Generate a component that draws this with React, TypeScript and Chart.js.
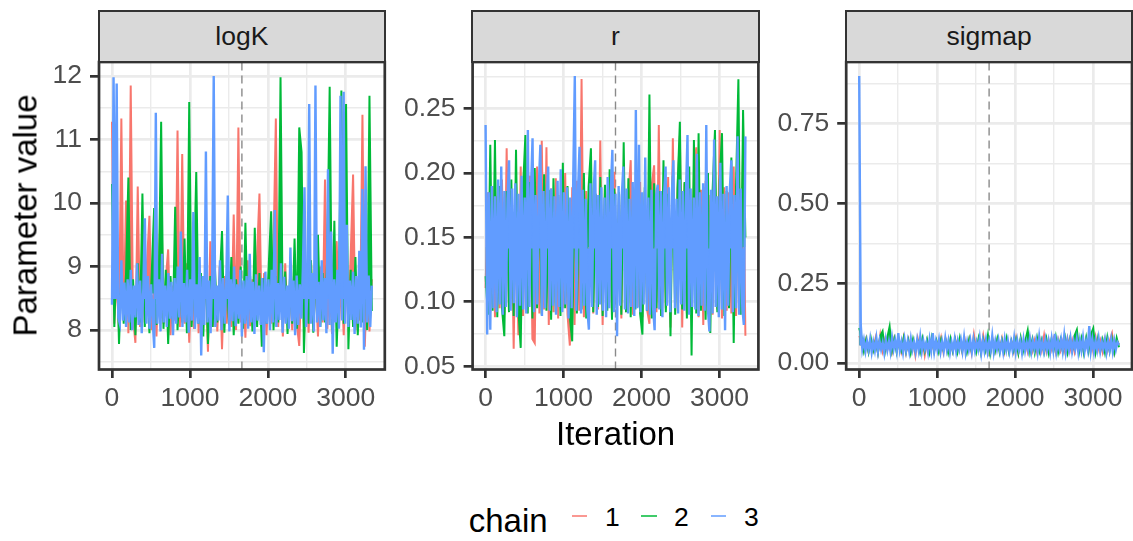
import React, { useEffect, useRef } from 'react';
import { Chart, registerables } from 'chart.js';

Chart.register(...registerables);

const FONT = "'Liberation Sans', Arial, Helvetica, sans-serif";

const CHAINS = ['1', '2', '3'];
const CHAIN_COLORS = ['#F8766D', '#00BA38', '#619CFF'];
const N_ITER = 3333;
const WARMUP_LINE = 1667;

const X_MAJOR = [0, 1000, 2000, 3000];
const X_MINOR = [500, 1500, 2500];
const LOGK_MAJOR = [8, 9, 10, 11, 12];
const LOGK_MINOR = [7.5, 8.5, 9.5, 10.5, 11.5];
const R_MAJOR = [0.05, 0.1, 0.15, 0.2, 0.25];
const R_MINOR = [0.075, 0.125, 0.175, 0.225, 0.275];
const SIG_MAJOR = [0, 0.25, 0.5, 0.75];
const SIG_MINOR = [0.125, 0.375, 0.625, 0.875];

// ---- logK traces (thinned draws) ----
const LOGK_1 = [
  11.28, 8.10, 8.85, 8.00, 11.33, 8.15, 10.04, 7.95, 11.85, 8.20,
  7.80, 10.26, 8.05, 8.90, 8.12, 9.10, 9.80, 8.00, 8.75, 7.90,
  8.95, 10.23, 8.10, 8.80, 9.27, 7.92, 8.70, 8.15, 11.14, 8.05,
  10.77, 8.10, 9.05, 7.80, 8.85, 8.02, 9.15, 7.95, 8.78, 8.12,
  8.90, 7.66, 9.40, 8.05, 8.80, 7.98, 9.00, 7.70, 8.85, 8.10,
  8.92, 8.05, 9.82, 8.00, 11.19, 8.12, 8.75, 7.88, 9.10, 8.06,
  8.80, 8.15, 9.20, 10.15, 8.02, 8.90, 7.92, 8.78, 8.10, 9.30,
  11.33, 8.05, 8.85, 7.90, 9.05, 8.12, 8.70, 8.00, 9.15, 8.08,
  7.75, 8.95, 8.10, 8.82, 7.96, 9.10, 8.05, 8.76, 7.90, 9.00,
  8.12, 10.37, 8.02, 8.80, 7.94, 9.08, 9.40, 8.05, 8.85, 7.92,
  8.90, 8.10, 9.20, 10.45, 8.00, 8.78, 8.15, 11.39, 7.74, 8.85,
  7.98, 8.80,
];
const LOGK_2 = [
  10.30, 8.05, 9.26, 7.78, 8.85, 8.10, 8.90, 10.40, 8.00, 8.80,
  7.92, 9.05, 8.12, 10.15, 8.05, 8.75, 7.95, 8.92, 9.92, 8.08,
  8.80, 11.28, 8.02, 8.95, 7.78, 8.85, 8.10, 9.94, 8.00, 8.78,
  8.12, 9.44, 7.95, 11.59, 8.05, 8.82, 10.49, 8.10, 8.90, 7.90,
  9.10, 7.78, 8.85, 8.05, 8.95, 8.12, 8.76, 9.56, 7.96, 8.88,
  8.08, 9.15, 7.92, 8.80, 8.10, 9.00, 8.02, 9.69, 8.15, 8.85,
  7.98, 9.61, 8.05, 8.90, 7.74, 8.82, 8.10, 9.05, 9.87, 8.00,
  8.85, 8.12, 11.98, 8.05, 8.92, 7.94, 8.80, 8.10, 9.44, 8.02,
  11.19, 10.80, 7.64, 8.88, 8.10, 9.10, 7.96, 8.82, 9.50, 8.05,
  8.90, 8.12, 9.20, 11.83, 8.00, 9.72, 7.74, 8.85, 11.77, 8.10,
  11.56, 7.70, 8.95, 8.05, 9.15, 7.92, 8.86, 8.12, 9.30, 8.00,
  11.69, 8.30,
];
const LOGK_3 = [
  8.40, 11.98, 8.90, 11.88, 8.20, 8.10, 9.10, 8.15, 8.75, 8.05,
  8.80, 8.12, 8.95, 8.00, 8.70, 8.20, 9.05, 8.08, 8.78, 7.95,
  8.65, 9.76, 8.10, 8.85, 8.02, 8.72, 8.15, 7.72, 11.42, 8.10,
  8.80, 7.98, 9.20, 8.12, 8.70, 8.05, 8.90, 8.18, 8.76, 7.92,
  8.82, 8.10, 9.00, 8.20, 9.55, 8.05, 8.74, 8.12, 8.95, 7.96,
  8.80, 8.15, 9.86, 8.02, 8.72, 8.10, 9.15, 7.60, 8.85, 8.08,
  10.81, 8.12, 8.78, 7.95, 8.90, 12.00, 8.05, 8.70, 8.15, 9.10,
  8.00, 8.82, 8.10, 8.75, 10.12, 7.98, 8.80, 8.14, 9.00, 8.06,
  8.72, 8.18, 8.95, 7.90, 8.78, 8.10, 8.85, 8.02, 9.20, 8.12,
  8.76, 7.94, 8.88, 8.15, 8.70, 8.08, 8.82, 7.65, 8.92, 8.10,
  8.80, 8.00, 8.95, 8.12, 9.89, 8.05, 8.74, 8.16, 9.05, 7.96,
  8.84, 8.10, 8.70, 8.02, 9.30, 8.14, 8.78, 7.92, 8.86, 8.08,
  8.72, 8.18, 9.00, 10.25, 8.05, 8.80, 11.56, 8.10, 8.90, 7.98,
  11.85, 8.12, 8.76, 8.05, 9.10, 8.15, 8.82, 7.95, 10.53, 8.08,
  9.55, 7.63, 8.80, 8.12, 8.95, 8.02, 11.69, 8.15, 11.75, 8.10,
  9.66, 8.05, 8.78, 8.16, 8.92, 7.94, 8.85, 8.10, 9.25, 8.04,
  10.22, 7.69, 10.58, 8.12, 8.86, 8.05, 8.70,
];

// ---- r traces ----
const R_1 = [
  0.1108, 0.185, 0.092, 0.190, 0.088, 0.182, 0.095, 0.195, 0.090, 0.2193,
  0.093, 0.186, 0.0635, 0.192, 0.074, 0.205, 0.089, 0.184, 0.096, 0.198,
  0.0712, 0.068, 0.205, 0.091, 0.225, 0.094, 0.220, 0.082, 0.188, 0.092,
  0.196, 0.087, 0.183, 0.095, 0.200, 0.090, 0.066, 0.189, 0.082, 0.194,
  0.093, 0.273, 0.088, 0.186, 0.096, 0.198, 0.091, 0.184, 0.094, 0.2252,
  0.082, 0.190, 0.095, 0.187, 0.089, 0.201, 0.093, 0.185, 0.087, 0.195,
  0.092, 0.182, 0.210, 0.090, 0.188, 0.096, 0.193, 0.088, 0.186, 0.094,
  0.083, 0.191, 0.206, 0.092, 0.2374, 0.089, 0.185, 0.095, 0.197, 0.080,
  0.227, 0.093, 0.188, 0.229, 0.080, 0.192, 0.091, 0.184, 0.096, 0.199,
  0.220, 0.088, 0.187, 0.082, 0.194, 0.092, 0.183, 0.090, 0.196, 0.094,
  0.2335, 0.087, 0.189, 0.093, 0.185, 0.091, 0.205, 0.089, 0.192, 0.095,
  0.219, 0.0737,
];
const R_2 = [
  0.120, 0.090, 0.222, 0.093, 0.2256, 0.088, 0.190, 0.095, 0.0733, 0.186,
  0.092, 0.195, 0.089, 0.218, 0.094, 0.0642, 0.188, 0.2296, 0.091, 0.193,
  0.087, 0.204, 0.095, 0.185, 0.090, 0.199, 0.093, 0.187, 0.086, 0.196,
  0.092, 0.183, 0.089, 0.208, 0.095, 0.190, 0.088, 0.0693, 0.194, 0.091,
  0.186, 0.094, 0.200, 0.087, 0.189, 0.2193, 0.092, 0.184, 0.096, 0.197,
  0.089, 0.191, 0.093, 0.203, 0.086, 0.188, 0.095, 0.185, 0.090, 0.224,
  0.092, 0.196, 0.088, 0.187, 0.094, 0.202, 0.091, 0.0746, 0.189, 0.093,
  0.2611, 0.087, 0.192, 0.095, 0.186, 0.089, 0.210, 0.092, 0.184, 0.0733,
  0.198, 0.090, 0.188, 0.2399, 0.094, 0.193, 0.087, 0.205, 0.0583, 0.2256,
  0.091, 0.231, 0.093, 0.189, 0.086, 0.200, 0.0758, 0.187, 0.2335, 0.092,
  0.194, 0.231, 0.089, 0.186, 0.095, 0.212, 0.068, 0.191, 0.2728, 0.090,
  0.249, 0.150,
];
const R_3 = [
  0.2374, 0.0746, 0.185, 0.0784, 0.190, 0.095, 0.182, 0.092, 0.195, 0.098,
  0.205, 0.090, 0.186, 0.096, 0.180, 0.210, 0.093, 0.188, 0.099, 0.192,
  0.088, 0.184, 0.097, 0.198, 0.094, 0.181, 0.091, 0.2335, 0.096, 0.187,
  0.227, 0.092, 0.183, 0.098, 0.190, 0.222, 0.089, 0.186, 0.095, 0.180,
  0.205, 0.093, 0.188, 0.097, 0.182, 0.090, 0.194, 0.096, 0.203, 0.092,
  0.185, 0.098, 0.189, 0.087, 0.181, 0.095, 0.196, 0.2754, 0.093, 0.184,
  0.2205, 0.091, 0.187, 0.097, 0.180, 0.094, 0.0784, 0.192, 0.096, 0.185,
  0.210, 0.090, 0.183, 0.098, 0.189, 0.093, 0.181, 0.088, 0.197, 0.095,
  0.186, 0.218, 0.092, 0.184, 0.0733, 0.190, 0.097, 0.182, 0.205, 0.094,
  0.188, 0.091, 0.180, 0.096, 0.193, 0.089, 0.249, 0.095, 0.222, 0.092,
  0.185, 0.098, 0.212, 0.093, 0.181, 0.090, 0.187, 0.096, 0.078, 0.183,
  0.191, 0.094, 0.186, 0.088, 0.182, 0.205, 0.097, 0.189, 0.092, 0.184,
  0.210, 0.095, 0.180, 0.091, 0.195, 0.098, 0.186, 0.093, 0.183, 0.2296,
  0.090, 0.188, 0.096, 0.181, 0.094, 0.215, 0.089, 0.185, 0.097, 0.192,
  0.093, 0.2374, 0.095, 0.077, 0.187, 0.091, 0.226, 0.096, 0.182, 0.088,
  0.208, 0.094, 0.184, 0.078, 0.190, 0.097, 0.186, 0.210, 0.092, 0.183,
  0.095, 0.2285, 0.090, 0.188, 0.096, 0.082, 0.2285,
];

// ---- sigmap traces ----
const SIGMAP_1 = [
  0.085, 0.072, 0.040, 0.075, 0.036, 0.070, 0.042, 0.078, 0.034, 0.088,
  0.038, 0.073, 0.041, 0.068, 0.035, 0.076, 0.043, 0.071, 0.037, 0.080,
  0.033, 0.074, 0.040, 0.069, 0.024, 0.077, 0.039, 0.072, 0.025, 0.070,
  0.042, 0.075, 0.036, 0.068, 0.040, 0.079, 0.034, 0.073, 0.041, 0.070,
  0.037, 0.076, 0.043, 0.071, 0.035, 0.078, 0.039, 0.074, 0.033, 0.090,
  0.040, 0.072, 0.036, 0.086, 0.042, 0.069, 0.034, 0.075, 0.038, 0.071,
  0.041, 0.077, 0.035, 0.073, 0.040, 0.070, 0.037, 0.078, 0.032, 0.074,
  0.043, 0.069, 0.036, 0.076, 0.039, 0.072, 0.034, 0.080, 0.041, 0.087,
  0.037, 0.071, 0.042, 0.075, 0.035, 0.073, 0.040, 0.068, 0.033, 0.077,
  0.039, 0.072, 0.036, 0.079, 0.042, 0.070, 0.034, 0.076, 0.040, 0.074,
  0.037, 0.082, 0.041, 0.071, 0.035, 0.075, 0.039, 0.069, 0.093, 0.036,
  0.072, 0.058,
];
const SIGMAP_2 = [
  0.110, 0.082, 0.038, 0.074, 0.035, 0.078, 0.040, 0.070, 0.033, 0.085,
  0.100, 0.036, 0.080, 0.1147, 0.039, 0.076, 0.034, 0.072, 0.041, 0.079,
  0.036, 0.071, 0.032, 0.075, 0.040, 0.068, 0.035, 0.077, 0.038, 0.073,
  0.034, 0.080, 0.039, 0.070, 0.036, 0.074, 0.041, 0.069, 0.033, 0.076,
  0.038, 0.072, 0.035, 0.079, 0.040, 0.068, 0.034, 0.075, 0.039, 0.071,
  0.036, 0.077, 0.033, 0.073, 0.041, 0.088, 0.030, 0.070, 0.037, 0.076,
  0.034, 0.072, 0.039, 0.078, 0.035, 0.069, 0.040, 0.074, 0.032, 0.080,
  0.037, 0.071, 0.103, 0.036, 0.075, 0.033, 0.079, 0.038, 0.072, 0.035,
  0.076, 0.031, 0.070, 0.039, 0.082, 0.034, 0.073, 0.037, 0.078, 0.033,
  0.074, 0.040, 0.086, 0.105, 0.036, 0.077, 0.032, 0.080, 0.038, 0.090,
  0.109, 0.035, 0.078, 0.039, 0.073, 0.033, 0.081, 0.037, 0.076, 0.034,
  0.079, 0.050,
];
const SIGMAP_3 = [
  0.900, 0.120, 0.045, 0.072, 0.038, 0.068, 0.042, 0.075, 0.035, 0.066,
  0.040, 0.078, 0.037, 0.070, 0.043, 0.065, 0.033, 0.073, 0.041, 0.068,
  0.036, 0.080, 0.044, 0.071, 0.039, 0.094, 0.042, 0.067, 0.034, 0.074,
  0.040, 0.069, 0.037, 0.076, 0.043, 0.066, 0.036, 0.072, 0.041, 0.082,
  0.038, 0.070, 0.044, 0.065, 0.035, 0.074, 0.040, 0.094, 0.037, 0.068,
  0.042, 0.073, 0.036, 0.067, 0.039, 0.078, 0.043, 0.070, 0.034, 0.066,
  0.041, 0.075, 0.037, 0.069, 0.044, 0.072, 0.038, 0.080, 0.035, 0.067,
  0.042, 0.071, 0.036, 0.074, 0.040, 0.066, 0.043, 0.078, 0.033, 0.070,
  0.039, 0.073, 0.037, 0.068, 0.041, 0.085, 0.036, 0.069, 0.044, 0.072,
  0.038, 0.066, 0.035, 0.075, 0.042, 0.070, 0.037, 0.067, 0.040, 0.079,
  0.036, 0.071, 0.043, 0.068, 0.034, 0.074, 0.039, 0.066, 0.041, 0.077,
  0.037, 0.069, 0.044, 0.072, 0.036, 0.082, 0.040, 0.067, 0.038, 0.073,
  0.042, 0.070, 0.035, 0.076, 0.041, 0.092, 0.037, 0.068, 0.043, 0.074,
  0.039, 0.086, 0.036, 0.071, 0.042, 0.078, 0.038, 0.069, 0.044, 0.075,
  0.035, 0.072, 0.041, 0.080, 0.037, 0.068, 0.043, 0.116, 0.039, 0.074,
  0.036, 0.070, 0.042, 0.077, 0.038, 0.067, 0.044, 0.073, 0.035, 0.069,
  0.041, 0.075, 0.037, 0.071, 0.043, 0.066, 0.058,
];

// ---- layout (pixels) ----
const PLOT_TOP = 62;
const PLOT_BOTTOM = 369.5;
const PLOT_W = 285.8;
const CANVAS_TOP = 34;
const CANVAS_H = 412;
const Y_AXIS_SPACE = 96;
const LINE_W = [2.0, 2.0, 2.4];

type PanelSpec = {
  label: string;
  left: number;
  series: number[][];
  major: number[];
  minor: number[];
  fmt: (v: number) => string;
};

const PANELS: PanelSpec[] = [
  { label: 'logK', left: 99, series: [LOGK_1, LOGK_2, LOGK_3], major: LOGK_MAJOR, minor: LOGK_MINOR, fmt: (v) => String(v) },
  { label: 'r', left: 472.6, series: [R_1, R_2, R_3], major: R_MAJOR, minor: R_MINOR, fmt: (v) => v.toFixed(2) },
  { label: 'sigmap', left: 846.2, series: [SIGMAP_1, SIGMAP_2, SIGMAP_3], major: SIG_MAJOR, minor: SIG_MINOR, fmt: (v) => v.toFixed(2) },
];

const near = (list: number[], v: number) => list.some((m) => Math.abs(m - v) < 1e-9);
// centre of the interquartile range: the level the trace oscillates around
const midHinge = (arr: number[]) => {
  const s = [...arr].sort((a, b) => a - b);
  const q = (p: number) => s[Math.floor(p * (s.length - 1))];
  return (q(0.25) + q(0.75)) / 2;
};

const borderPlugin = {
  id: 'panelBorder',
  afterDatasetsDraw(chart: any) {
    const { ctx, chartArea: a } = chart;
    ctx.save();
    ctx.strokeStyle = '#333333';
    ctx.lineWidth = 2.7;
    ctx.strokeRect(a.left, a.top, a.right - a.left, a.bottom - a.top);
    ctx.restore();
  },
};

function Panel({ spec }: { spec: PanelSpec }) {
  const ref = useRef<HTMLCanvasElement>(null);
  const canvasLeft = Math.floor(spec.left) - Y_AXIS_SPACE;
  const yAxisW = spec.left - canvasLeft;
  const canvasW = Math.ceil(yAxisW + PLOT_W + 3);
  const padRight = canvasW - yAxisW - PLOT_W;
  const padTop = PLOT_TOP - CANVAS_TOP;
  const xAxisH = CANVAS_H - padTop - (PLOT_BOTTOM - PLOT_TOP);

  useEffect(() => {
    const all = spec.series.flat();
    const lo = Math.min(...all);
    const hi = Math.max(...all);
    const pad = (hi - lo) * 0.05;
    const ymin = lo - pad;
    const ymax = hi + pad;
    const xpad = (N_ITER - 1) * 0.05;
    const xmin = 1 - xpad;
    const xmax = N_ITER + xpad;
    const toPts = (arr: number[]) =>
      arr.map((v, i) => ({ x: 1 + (i * (N_ITER - 1)) / (arr.length - 1), y: v }));

    const datasets: any[] = [
      {
        label: 'warmup',
        data: [
          { x: WARMUP_LINE, y: ymin },
          { x: WARMUP_LINE, y: ymax },
        ],
        borderColor: '#8A8A8A',
        borderWidth: 1.4,
        borderDash: [8, 5],
        pointRadius: 0,
        fill: false,
        order: 10,
      },
      ...spec.series.map((arr, c) => ({
        label: CHAINS[c],
        data: toPts(arr),
        borderColor: CHAIN_COLORS[c],
        backgroundColor: CHAIN_COLORS[c],
        borderWidth: LINE_W[c],
        borderJoinStyle: 'miter',
        pointRadius: 0,
        tension: 0,
        fill: { value: midHinge(arr) },
        order: 3 - c,
      })),
    ];

    const tickFont = { family: FONT, size: 26.5 };
    const xTicks = [...X_MAJOR, ...X_MINOR].sort((a, b) => a - b);
    const yTicks = [...spec.major, ...spec.minor].sort((a, b) => a - b);

    const chart = new Chart(ref.current as HTMLCanvasElement, {
      type: 'line',
      data: { datasets },
      plugins: [borderPlugin],
      options: {
        animation: false,
        responsive: false,
        maintainAspectRatio: false,
        devicePixelRatio: 1,
        events: [],
        layout: { padding: { left: 0, top: padTop, right: padRight, bottom: 0 } },
        plugins: { legend: { display: false }, tooltip: { enabled: false } },
        scales: {
          x: {
            type: 'linear',
            min: xmin,
            max: xmax,
            afterBuildTicks: (ax: any) => {
              ax.ticks = xTicks.map((v) => ({ value: v }));
            },
            afterFit: (ax: any) => {
              ax.height = xAxisH;
            },
            border: { display: false },
            grid: {
              color: '#EBEBEB',
              lineWidth: (ctx: any) => (ctx.tick && near(X_MAJOR, ctx.tick.value) ? 2.7 : 1.4),
              drawTicks: true,
              tickLength: 8.5,
              tickWidth: 2.7,
              tickColor: (ctx: any) => (ctx.tick && near(X_MAJOR, ctx.tick.value) ? '#333333' : 'rgba(0,0,0,0)'),
            },
            ticks: {
              autoSkip: false,
              maxRotation: 0,
              minRotation: 0,
              padding: 5,
              color: '#4D4D4D',
              font: tickFont,
              callback: (v: any) => (near(X_MAJOR, Number(v)) ? String(v) : ''),
            },
          },
          y: {
            type: 'linear',
            min: ymin,
            max: ymax,
            afterBuildTicks: (ax: any) => {
              ax.ticks = yTicks.map((v) => ({ value: v }));
            },
            afterFit: (ax: any) => {
              ax.width = yAxisW;
            },
            border: { display: false },
            grid: {
              color: '#EBEBEB',
              lineWidth: (ctx: any) => (ctx.tick && near(spec.major, ctx.tick.value) ? 2.7 : 1.4),
              drawTicks: true,
              tickLength: 9,
              tickWidth: 2.7,
              tickColor: (ctx: any) => (ctx.tick && near(spec.major, ctx.tick.value) ? '#333333' : 'rgba(0,0,0,0)'),
            },
            ticks: {
              autoSkip: false,
              padding: 8,
              color: '#4D4D4D',
              font: tickFont,
              callback: (v: any) => (near(spec.major, Number(v)) ? spec.fmt(Number(v)) : ''),
            },
          },
        },
      } as any,
    });
    return () => chart.destroy();
  }, []);

  return (
    <>
      <canvas
        ref={ref}
        width={canvasW}
        height={CANVAS_H}
        style={{ position: 'absolute', left: canvasLeft, top: CANVAS_TOP, width: canvasW, height: CANVAS_H }}
      />
      <div
        style={{
          position: 'absolute',
          left: spec.left - 1.35,
          top: 11 - 1.35,
          width: PLOT_W + 2.7,
          height: PLOT_TOP - 11 + 2.7,
          boxSizing: 'border-box',
          border: '2.7px solid #333333',
          background: '#D9D9D9',
          display: 'flex',
          alignItems: 'center',
          justifyContent: 'center',
          fontSize: 26.5,
          lineHeight: '26.5px',
          color: '#1A1A1A',
        }}
      >
        {spec.label}
      </div>
    </>
  );
}

export default function App() {
  const legendItems = [
    { key: 571.7, text: 605, label: CHAINS[0], color: CHAIN_COLORS[0] },
    { key: 641, text: 674, label: CHAINS[1], color: CHAIN_COLORS[1] },
    { key: 710.7, text: 744, label: CHAINS[2], color: CHAIN_COLORS[2] },
  ];
  return (
    <div
      style={{
        position: 'absolute',
        left: 0,
        top: 0,
        width: 1133,
        height: 541,
        overflow: 'hidden',
        background: '#FFFFFF',
        fontFamily: FONT,
      }}
    >
      {PANELS.map((p) => (
        <Panel key={p.label} spec={p} />
      ))}
      <div
        style={{
          position: 'absolute',
          left: 24.6 - 200,
          top: 215.75 - 16.5,
          width: 400,
          height: 33,
          lineHeight: '33px',
          fontSize: 33,
          textAlign: 'center',
          color: '#000000',
          transform: 'rotate(-90deg)',
          whiteSpace: 'nowrap',
        }}
      >
        Parameter value
      </div>
      <div
        style={{
          position: 'absolute',
          left: 615.6 - 200,
          top: 445 - 27.9,
          width: 400,
          height: 33,
          lineHeight: '33px',
          fontSize: 33,
          textAlign: 'center',
          color: '#000000',
          whiteSpace: 'nowrap',
        }}
      >
        Iteration
      </div>
      <div
        style={{
          position: 'absolute',
          left: 468.7,
          top: 531.7 - 27.9,
          height: 33,
          lineHeight: '33px',
          fontSize: 33,
          color: '#000000',
          whiteSpace: 'nowrap',
        }}
      >
        chain
      </div>
      {legendItems.map((it) => (
        <React.Fragment key={it.label}>
          <div
            style={{
              position: 'absolute',
              left: it.key,
              top: 515.3,
              width: 15.6,
              height: 1.4,
              background: it.color,
              opacity: 0.75,
            }}
          />
          <div
            style={{
              position: 'absolute',
              left: it.text,
              top: 526.7 - 22.4,
              height: 26.5,
              lineHeight: '26.5px',
              fontSize: 26.5,
              color: '#000000',
              whiteSpace: 'nowrap',
            }}
          >
            {it.label}
          </div>
        </React.Fragment>
      ))}
    </div>
  );
}
